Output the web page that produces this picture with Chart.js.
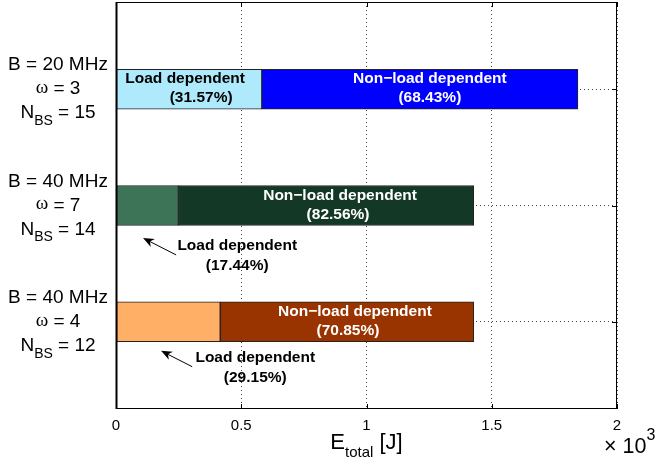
<!DOCTYPE html>
<html>
<head>
<meta charset="utf-8">
<script src="https://cdn.jsdelivr.net/npm/chart.js@4"></script>
<style>
  html, body { margin: 0; padding: 0; background: #fff; }
  #wrap { width: 657px; height: 463px; }
</style>
</head>
<body>
<div id="wrap"><canvas id="energyChart" width="657" height="463"></canvas></div>
<script>
// configurations (one bar each, top to bottom)
const bandwidth = ['20', '40', '40'];
const omega = [3, 7, 4];
const nBS = [15, 14, 12];
const barPos = [1, 2, 3];

// energy split, in J
const loadEnergy = [582, 249, 416];
const nonLoadEnergy = [1262, 1179, 1012];
const loadShare = ['31.57%', '17.44%', '29.15%'];
const nonLoadShare = ['68.43%', '82.56%', '70.85%'];

const loadColors = ['#aeeafb', '#3d7356', '#ffb066'];
const nonLoadColors = ['#0000ff', '#133826', '#993300'];

const FONT = "'Liberation Sans', Arial, Helvetica, sans-serif";
Chart.defaults.font.family = FONT;
Chart.defaults.color = '#000';

// labels written inside a bar segment: dx shifts each line from the segment centre
const innerLabels = [
    { bar: 0, seg: 0, color: '#000', dx: [-4, 12] },
    { bar: 0, seg: 1, color: '#fff', dx: [10, 10] },
    { bar: 1, seg: 1, color: '#fff', dx: [14, 12] },
    { bar: 2, seg: 1, color: '#fff', dx: [8, 1] }
];
// labels outside the bar, with an arrow (data coordinates, like MATLAB text())
const arrowLabels = [
    { bar: 1, x: 484, y: 2.35, tail: [240, 2.425], tip: [108, 2.28] },
    { bar: 2, x: 556, y: 3.31, tail: [304, 3.386], tip: [180, 3.25] }
];

function drawArrow(ctx, x0, y0, x1, y1) {
    const ang = Math.atan2(y1 - y0, x1 - x0);
    const len = 11, half = 4.5;
    ctx.beginPath();
    ctx.moveTo(x0, y0);
    ctx.lineTo(x1 - Math.cos(ang) * len * 0.7, y1 - Math.sin(ang) * len * 0.7);
    ctx.stroke();
    ctx.beginPath();
    ctx.moveTo(x1, y1);
    ctx.lineTo(x1 - Math.cos(ang) * len + Math.sin(ang) * half, y1 - Math.sin(ang) * len - Math.cos(ang) * half);
    ctx.lineTo(x1 - Math.cos(ang) * len * 0.7, y1 - Math.sin(ang) * len * 0.7);
    ctx.lineTo(x1 - Math.cos(ang) * len - Math.sin(ang) * half, y1 - Math.sin(ang) * len + Math.cos(ang) * half);
    ctx.closePath();
    ctx.fill();
}

const decorPlugin = {
    id: 'decor',
    afterDatasetsDraw(chart) {
        const ctx = chart.ctx;
        const a = chart.chartArea;
        const xs = chart.scales.x, ys = chart.scales.y;
        ctx.save();

        // box + inward ticks
        ctx.strokeStyle = '#000';
        ctx.lineWidth = 1;
        ctx.strokeRect(a.left + 0.5, a.top + 0.5, a.right - a.left - 1, a.bottom - a.top - 1);
        ctx.beginPath();
        xs.ticks.forEach(t => {
            const px = Math.round(xs.getPixelForValue(t.value)) + 0.5;
            ctx.moveTo(px, a.bottom); ctx.lineTo(px, a.bottom - 5);
            ctx.moveTo(px, a.top); ctx.lineTo(px, a.top + 5);
        });
        barPos.forEach(v => {
            const py = Math.round(ys.getPixelForValue(v)) + 0.5;
            ctx.moveTo(a.right, py); ctx.lineTo(a.right - 5, py);
        });
        ctx.stroke();
        ctx.lineWidth = 2;
        ctx.beginPath();
        ctx.moveTo(a.left + 0.5, a.top); ctx.lineTo(a.left + 0.5, a.bottom);
        ctx.stroke();

        // text inside bars
        ctx.font = 'bold 15.5px ' + FONT;
        ctx.textAlign = 'center';
        ctx.textBaseline = 'middle';
        innerLabels.forEach(l => {
            const meta = chart.getDatasetMeta(l.seg);
            const el = meta.data[l.bar];
            const cx = (el.x + el.base) / 2;
            const cy = el.y;
            const title = l.seg === 0 ? 'Load dependent' : 'Non\u2212load dependent';
            const share = l.seg === 0 ? loadShare[l.bar] : nonLoadShare[l.bar];
            ctx.fillStyle = l.color;
            ctx.fillText(title, cx + l.dx[0], cy - 10);
            ctx.fillText('(' + share + ')', cx + l.dx[1], cy + 9);
        });

        // text outside bars with arrows
        ctx.fillStyle = '#000';
        ctx.strokeStyle = '#000';
        ctx.lineWidth = 1;
        arrowLabels.forEach(l => {
            const px = xs.getPixelForValue(l.x);
            const py = ys.getPixelForValue(l.y);
            ctx.fillText('Load dependent', px, py);
            ctx.fillText('(' + loadShare[l.bar] + ')', px, py + 20);
            drawArrow(ctx,
                xs.getPixelForValue(l.tail[0]), ys.getPixelForValue(l.tail[1]),
                xs.getPixelForValue(l.tip[0]), ys.getPixelForValue(l.tip[1]));
        });

        // y category labels
        const cxLab = 58;
        barPos.forEach((v, i) => {
            const cy = ys.getPixelForValue(v);
            ctx.fillStyle = '#000';
            ctx.textAlign = 'center';
            ctx.font = '19px ' + FONT;
            ctx.fillText('B = ' + bandwidth[i] + ' MHz', cxLab, cy - 24);
            ctx.font = '19px "Liberation Serif", serif';
            const wOm = ctx.measureText('\u03c9').width;
            ctx.font = '19px ' + FONT;
            const wRest = ctx.measureText(' = ' + omega[i]).width;
            let x0 = cxLab - (wOm + wRest) / 2;
            ctx.textAlign = 'left';
            ctx.font = '19px "Liberation Serif", serif';
            ctx.fillText('\u03c9', x0, cy - 1);
            ctx.font = '19px ' + FONT;
            ctx.fillText(' = ' + omega[i], x0 + wOm, cy);
            const wN = ctx.measureText('N').width;
            const wEq = ctx.measureText(' = ' + nBS[i]).width;
            ctx.font = '14px ' + FONT;
            const wBS = ctx.measureText('BS').width;
            x0 = cxLab - (wN + wBS + wEq) / 2;
            ctx.font = '19px ' + FONT;
            ctx.fillText('N', x0, cy + 24);
            ctx.fillText(' = ' + nBS[i], x0 + wN + wBS, cy + 24);
            ctx.font = '14px ' + FONT;
            ctx.fillText('BS', x0 + wN, cy + 32);
        });

        // x axis title and multiplier
        ctx.textAlign = 'left';
        ctx.font = '22px ' + FONT;
        const wE = ctx.measureText('E').width;
        const wJ = ctx.measureText(' [J]').width;
        ctx.font = '15px ' + FONT;
        const wT = ctx.measureText('total').width;
        let tx = (a.left + a.right) / 2 - (wE + wT + wJ) / 2;
        ctx.font = '22px ' + FONT;
        ctx.fillText('E', tx, 443);
        ctx.fillText(' [J]', tx + wE + wT, 443);
        ctx.font = '15px ' + FONT;
        ctx.fillText('total', tx + wE, 453);

        ctx.font = '21.5px ' + FONT;
        ctx.fillText('\u00d7 10', 604, 447);
        const w10 = ctx.measureText('\u00d7 10').width;
        ctx.font = '16px ' + FONT;
        ctx.fillText('3', 604 + w10, 436);

        ctx.restore();
    }
};

const ctxEl = document.getElementById('energyChart');
new Chart(ctxEl, {
    type: 'bar',
    data: {
        datasets: [
            {
                label: 'Load dependent',
                data: barPos.map((p, i) => ({ x: loadEnergy[i], y: p })),
                backgroundColor: loadColors,
                borderColor: '#222',
                borderWidth: 1,
                borderSkipped: false,
                barThickness: 40
            },
            {
                label: 'Non-load dependent',
                data: barPos.map((p, i) => ({ x: nonLoadEnergy[i], y: p })),
                backgroundColor: nonLoadColors,
                borderColor: '#222',
                borderWidth: 1,
                borderSkipped: false,
                barThickness: 40
            }
        ]
    },
    options: {
        indexAxis: 'y',
        responsive: false,
        animation: false,
        layout: { padding: { top: 2, right: 40, left: 0, bottom: 0 } },
        plugins: { legend: { display: false }, tooltip: { enabled: false } },
        scales: {
            x: {
                type: 'linear',
                stacked: true,
                min: 0,
                max: 2000,
                ticks: {
                    stepSize: 500,
                    padding: 8,
                    font: { size: 15 },
                    color: '#000',
                    callback: v => String(v / 1000)
                },
                grid: { color: '#444', drawTicks: false, lineWidth: 1 },
                border: { display: false, dash: [1, 3] },
                afterFit: s => { s.height = 54; }
            },
            y: {
                type: 'linear',
                stacked: true,
                reverse: true,
                offset: false,
                min: 0.25,
                max: 3.75,
                ticks: { display: false },
                afterBuildTicks: s => { s.ticks = barPos.map(v => ({ value: v })); },
                grid: { color: '#444', drawTicks: false, lineWidth: 1, offset: false },
                border: { display: false, dash: [1, 3] },
                afterFit: s => { s.width = 116; }
            }
        }
    },
    plugins: [decorPlugin]
});
</script>
</body>
</html>
